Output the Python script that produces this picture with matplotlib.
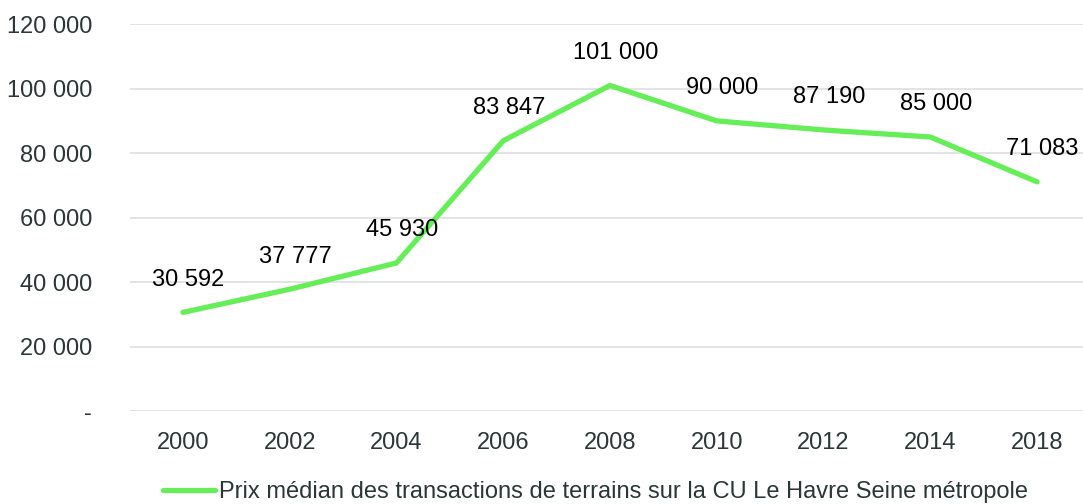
import matplotlib
matplotlib.use("Agg")
import matplotlib.pyplot as plt

years = ["2000", "2002", "2004", "2006", "2008", "2010", "2012", "2014", "2018"]
prices = [30592, 37777, 45930, 83847, 101000, 90000, 87190, 85000, 71083]
series_name = "Prix médian des transactions de terrains sur la CU Le Havre Seine métropole"
yticks = [0, 20000, 40000, 60000, 80000, 100000, 120000]

plt.rcParams['font.family'] = ['Liberation Sans', 'DejaVu Sans']

def fmt(v):
    if v == 0:
        return "-"
    return f"{v:,.0f}".replace(",", " ")

fig = plt.figure(figsize=(10.83, 5.04), dpi=100)
ax = fig.add_axes([0.1196, 0.1845, 0.8873, 0.7675])

x = list(range(len(years)))
line, = ax.plot(x, prices, color="#66EE58", linewidth=3.8, solid_capstyle="round",
                solid_joinstyle="round", label=series_name, zorder=3)

for xi, v in zip(x, prices):
    ax.annotate(fmt(v), (xi, v), xytext=(4, 23.5), textcoords="offset points",
                ha="center", va="center", fontsize=17, color="black")

ax.set_xlim(-0.5, len(years) - 0.5)
ax.set_ylim(0, 120000)
ax.set_xticks(x)
ax.set_xticklabels(years)
ax.set_yticks(yticks)
ax.set_yticklabels([fmt(v) for v in yticks])
ax.tick_params(axis="both", length=0, labelsize=17, colors="#2B3636")
ax.tick_params(axis="x", pad=15)
ax.tick_params(axis="y", pad=27)
ax.grid(axis="y", color="#DCDFDF", linewidth=1.2)
ax.set_axisbelow(True)
for s in ax.spines.values():
    s.set_visible(False)

leg = fig.legend(handles=[line], loc="lower center", bbox_to_anchor=(0.55, -0.04),
                 frameon=False, fontsize=17, handlelength=2.2, handletextpad=0.2,
                 labelcolor="#2B3636")

fig.savefig("out.png", dpi=100)
